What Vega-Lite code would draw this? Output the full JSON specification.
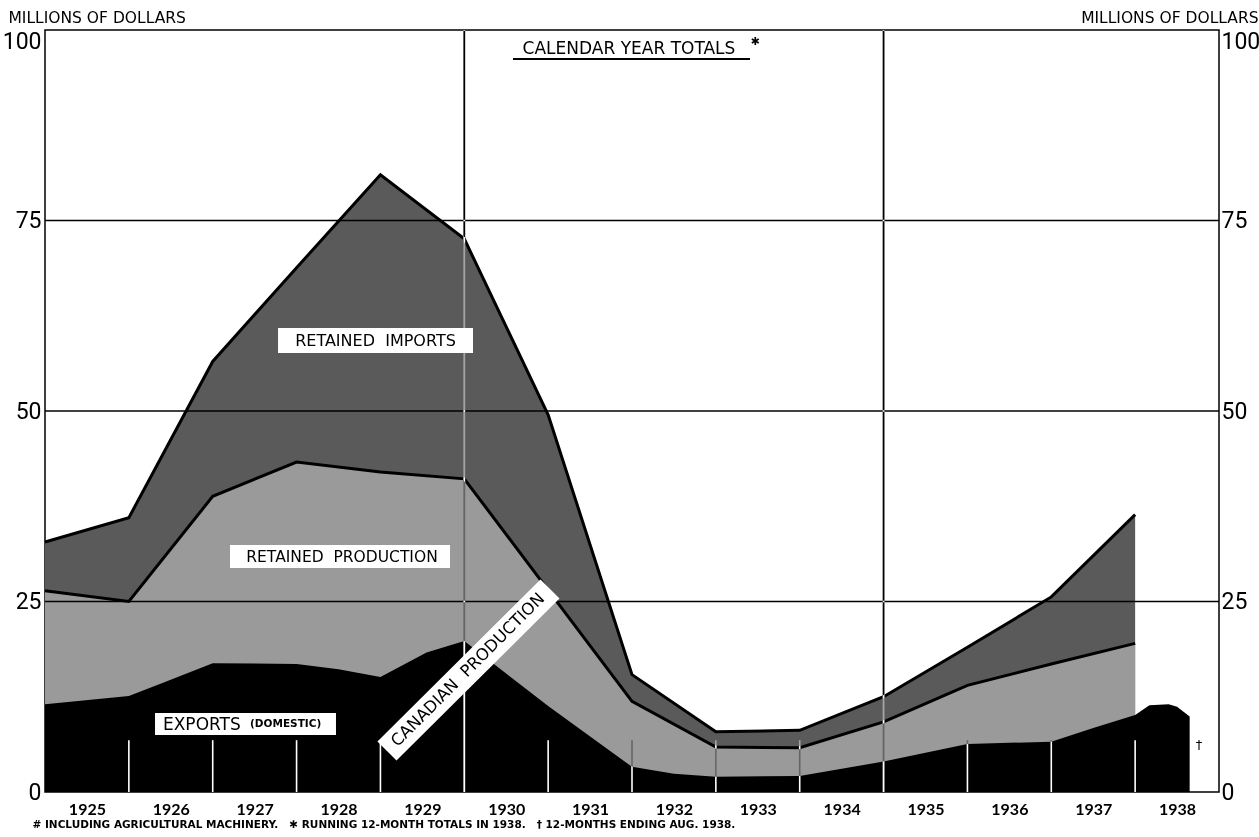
{
  "$schema": "https://vega.github.io/schema/vega-lite/v6.json",
  "width": 1174,
  "height": 762,
  "autosize": {"type": "none"},
  "padding": {"left": 45, "top": 30, "right": 40, "bottom": 45},
  "background": "white",
  "config": {
    "view": {"stroke": "black", "strokeWidth": 1.5},
    "font": "DejaVu Sans"
  },
  "datasets": {
    "bands": [
      {"year": 1925, "production": 26.4, "total": 32.8},
      {"year": 1926, "production": 25.0, "total": 36.0},
      {"year": 1927, "production": 38.8, "total": 56.5},
      {"year": 1928, "production": 43.3, "total": 68.8},
      {"year": 1929, "production": 42.0, "total": 81.0},
      {"year": 1930, "production": 41.1, "total": 72.6},
      {"year": 1931, "production": 26.5, "total": 49.5},
      {"year": 1932, "production": 11.9, "total": 15.4},
      {"year": 1933, "production": 5.9, "total": 7.9},
      {"year": 1934, "production": 5.8, "total": 8.1},
      {"year": 1935, "production": 9.2, "total": 12.5},
      {"year": 1936, "production": 14.0, "total": 19.0},
      {"year": 1937, "production": 16.8, "total": 25.6},
      {"year": 1938, "production": 19.5, "total": 36.4}
    ],
    "exports": [
      {"year": 1925, "exports": 11.5},
      {"year": 1926, "exports": 12.6},
      {"year": 1926.4, "exports": 14.3},
      {"year": 1927, "exports": 16.9},
      {"year": 1928, "exports": 16.8},
      {"year": 1928.5, "exports": 16.1},
      {"year": 1929, "exports": 15.1},
      {"year": 1929.55, "exports": 18.3},
      {"year": 1930, "exports": 19.8},
      {"year": 1931, "exports": 11.3},
      {"year": 1932, "exports": 3.3},
      {"year": 1932.5, "exports": 2.4},
      {"year": 1933, "exports": 2.0},
      {"year": 1934, "exports": 2.1},
      {"year": 1935, "exports": 4.0},
      {"year": 1936, "exports": 6.3},
      {"year": 1937, "exports": 6.6},
      {"year": 1937.5, "exports": 8.4},
      {"year": 1938, "exports": 10.1},
      {"year": 1938.17, "exports": 11.4},
      {"year": 1938.4, "exports": 11.5},
      {"year": 1938.5, "exports": 11.2},
      {"year": 1938.65, "exports": 9.9}
    ],
    "years": [
      {"year": 1926}, {"year": 1927}, {"year": 1928}, {"year": 1929},
      {"year": 1930}, {"year": 1931}, {"year": 1932}, {"year": 1933},
      {"year": 1934}, {"year": 1935}, {"year": 1936}, {"year": 1937},
      {"year": 1938}
    ],
    "levels": [{"level": 25}, {"level": 50}, {"level": 75}]
  },
  "resolve": {"axis": {"y": "independent"}},
  "layer": [
    {
      "data": {"name": "bands"},
      "mark": {"type": "area", "fill": "#5a5a5a"},
      "encoding": {
        "x": {
          "field": "year", "type": "quantitative",
          "scale": {"domain": [1925, 1939], "nice": false, "zero": false},
          "axis": {
            "values": [1925.5, 1926.5, 1927.5, 1928.5, 1929.5, 1930.5, 1931.5, 1932.5, 1933.5, 1934.5, 1935.5, 1936.5, 1937.5, 1938.5],
            "labelExpr": "floor(datum.value)",
            "ticks": false, "tickSize": 0, "domain": false, "grid": false,
            "labelFont": "Lato", "labelFontSize": 16, "labelFontWeight": "bold",
            "labelColor": "black", "labelPadding": 9, "labelFlush": false, "labelOverlap": false,
            "title": "#  INCLUDING AGRICULTURAL MACHINERY.   \u00a0 ✱ RUNNING 12-MONTH TOTALS IN 1938.   \u00a0 † 12-MONTHS ENDING AUG. 1938.",
            "titleFont": "DejaVu Sans", "titleFontSize": 10.5, "titleFontWeight": "bold", "titleColor": "black",
            "titleAnchor": "start", "titleAlign": "left", "titleBaseline": "middle",
            "titleX": -13, "titleY": 32
          }
        },
        "y": {
          "field": "total", "type": "quantitative",
          "scale": {"domain": [0, 100], "nice": false, "zero": true},
          "axis": {
            "orient": "left",
            "values": [0, 25, 50, 75, 100],
            "ticks": false, "domain": false, "grid": false,
            "labelFont": "Roboto",
            "labelFontSize": 23, "labelColor": "black", "labelPadding": 4,
            "labelBaseline": {"condition": {"test": "datum.value == 100", "value": "top"}, "value": "middle"},
            "labelFlush": false,
            "title": "MILLIONS  OF  DOLLARS",
            "titleFont": "DejaVu Sans", "titleFontSize": 15.5, "titleFontWeight": "normal", "titleColor": "black",
            "titleAngle": 0, "titleAlign": "left", "titleBaseline": "middle",
            "titleX": -37, "titleY": -13
          }
        }
      }
    },
    {
      "data": {"name": "bands"},
      "mark": {"type": "area", "fill": "#9a9a9a"},
      "encoding": {
        "x": {"field": "year", "type": "quantitative"},
        "y": {
          "field": "production", "type": "quantitative",
          "axis": {
            "orient": "right",
            "values": [0, 25, 50, 75, 100],
            "ticks": false, "domain": false, "grid": false,
            "labelFont": "Roboto",
            "labelFontSize": 23, "labelColor": "black", "labelPadding": 2,
            "labelBaseline": {"condition": {"test": "datum.value == 100", "value": "top"}, "value": "middle"},
            "labelFlush": false,
            "title": "MILLIONS  OF  DOLLARS",
            "titleFont": "DejaVu Sans", "titleFontSize": 15.5, "titleFontWeight": "normal", "titleColor": "black",
            "titleAngle": 0, "titleAlign": "right", "titleBaseline": "middle",
            "titleX": 39, "titleY": -13
          }
        }
      }
    },
    {
      "data": {"name": "exports"},
      "mark": {"type": "area", "fill": "black"},
      "encoding": {
        "x": {"field": "year", "type": "quantitative"},
        "y": {"field": "exports", "type": "quantitative", "axis": null}
      }
    },
    {
      "data": {"name": "bands"},
      "mark": {"type": "line", "stroke": "black", "strokeWidth": 3, "strokeJoin": "miter"},
      "encoding": {
        "x": {"field": "year", "type": "quantitative"},
        "y": {"field": "total", "type": "quantitative", "axis": null}
      }
    },
    {
      "data": {"name": "bands"},
      "mark": {"type": "line", "stroke": "black", "strokeWidth": 3, "strokeJoin": "miter"},
      "encoding": {
        "x": {"field": "year", "type": "quantitative"},
        "y": {"field": "production", "type": "quantitative", "axis": null}
      }
    },
    {
      "data": {"name": "levels"},
      "mark": {"type": "rule", "stroke": "black", "strokeWidth": 1.3},
      "encoding": {
        "y": {"field": "level", "type": "quantitative", "axis": null}
      }
    },
    {
      "data": {"name": "years"},
      "transform": [{"filter": "datum.year == 1930 || datum.year == 1935"}],
      "mark": {"type": "rule", "stroke": "white", "strokeWidth": 1.8, "blend": "difference"},
      "encoding": {
        "x": {"field": "year", "type": "quantitative"}
      }
    },
    {
      "data": {"name": "years"},
      "transform": [{"filter": "datum.year != 1930 && datum.year != 1935"}],
      "mark": {"type": "rule", "stroke": "white", "strokeWidth": 1.6, "blend": "difference"},
      "encoding": {
        "x": {"field": "year", "type": "quantitative"},
        "y": {"datum": 0, "type": "quantitative", "axis": null},
        "y2": {"datum": 6.8}
      }
    },
    {
      "data": {"values": [{}]},
      "mark": {"type": "rect", "fill": "white"},
      "encoding": {
        "x": {"datum": 1927.779, "type": "quantitative"},
        "x2": {"datum": 1930.104},
        "y": {"datum": 60.89, "type": "quantitative", "axis": null},
        "y2": {"datum": 57.61}
      }
    },
    {
      "data": {"values": [{}]},
      "mark": {"type": "rect", "fill": "white"},
      "encoding": {
        "x": {"datum": 1927.206, "type": "quantitative"},
        "x2": {"datum": 1929.83},
        "y": {"datum": 32.41, "type": "quantitative", "axis": null},
        "y2": {"datum": 29.4}
      }
    },
    {
      "data": {"values": [{}]},
      "mark": {"type": "rect", "fill": "white"},
      "encoding": {
        "x": {"datum": 1926.312, "type": "quantitative"},
        "x2": {"datum": 1928.47},
        "y": {"datum": 10.37, "type": "quantitative", "axis": null},
        "y2": {"datum": 7.48}
      }
    },
    {
      "data": {"values": [{}]},
      "mark": {"type": "rule", "stroke": "white", "strokeWidth": 27, "strokeCap": "butt"},
      "encoding": {
        "x": {"datum": 1929.078, "type": "quantitative"},
        "x2": {"datum": 1931.022},
        "y": {"datum": 5.38, "type": "quantitative", "axis": null},
        "y2": {"datum": 26.64}
      }
    },
    {
      "data": {"values": [{}]},
      "mark": {"type": "text", "text": "RETAINED \u00a0IMPORTS", "font": "DejaVu Sans", "fontSize": 16, "color": "black", "align": "center", "baseline": "middle"},
      "encoding": {
        "x": {"datum": 1928.941, "type": "quantitative"},
        "y": {"datum": 59.25, "type": "quantitative", "axis": null}
      }
    },
    {
      "data": {"values": [{}]},
      "mark": {"type": "text", "text": "RETAINED \u00a0PRODUCTION", "font": "DejaVu Sans", "fontSize": 15.5, "color": "black", "align": "center", "baseline": "middle"},
      "encoding": {
        "x": {"datum": 1928.542, "type": "quantitative"},
        "y": {"datum": 30.85, "type": "quantitative", "axis": null}
      }
    },
    {
      "data": {"values": [{}]},
      "mark": {"type": "text", "text": "EXPORTS", "font": "DejaVu Sans", "fontSize": 17, "color": "black", "align": "left", "baseline": "middle"},
      "encoding": {
        "x": {"datum": 1926.407, "type": "quantitative"},
        "y": {"datum": 8.75, "type": "quantitative", "axis": null}
      }
    },
    {
      "data": {"values": [{}]},
      "mark": {"type": "text", "text": "(DOMESTIC)", "font": "DejaVu Sans", "fontSize": 10.5, "fontWeight": "bold", "color": "black", "align": "left", "baseline": "middle"},
      "encoding": {
        "x": {"datum": 1927.445, "type": "quantitative"},
        "y": {"datum": 8.95, "type": "quantitative", "axis": null}
      }
    },
    {
      "data": {"values": [{}]},
      "mark": {"type": "text", "text": "CANADIAN \u00a0PRODUCTION", "font": "DejaVu Sans", "fontSize": 16.5, "color": "black", "align": "center", "baseline": "middle", "angle": -45},
      "encoding": {
        "x": {"datum": 1930.044, "type": "quantitative"},
        "y": {"datum": 16.01, "type": "quantitative", "axis": null}
      }
    },
    {
      "data": {"values": [{}]},
      "mark": {"type": "text", "text": "†", "font": "DejaVu Sans", "fontSize": 13, "color": "black", "align": "center", "baseline": "middle"},
      "encoding": {
        "x": {"datum": 1938.762, "type": "quantitative"},
        "y": {"datum": 6.2, "type": "quantitative", "axis": null}
      }
    },
    {
      "data": {"values": [{}]},
      "mark": {"type": "text", "text": "CALENDAR YEAR TOTALS", "font": "DejaVu Sans", "fontSize": 17, "color": "black", "align": "center", "baseline": "middle"},
      "encoding": {
        "x": {"datum": 1931.964, "type": "quantitative"},
        "y": {"datum": 97.5, "type": "quantitative", "axis": null}
      }
    },
    {
      "data": {"values": [{}]},
      "mark": {"type": "text", "text": "✱", "font": "DejaVu Sans", "fontSize": 11, "color": "black", "align": "center", "baseline": "middle"},
      "encoding": {
        "x": {"datum": 1933.467, "type": "quantitative"},
        "y": {"datum": 98.4, "type": "quantitative", "axis": null}
      }
    },
    {
      "data": {"values": [{}]},
      "mark": {"type": "rule", "stroke": "black", "strokeWidth": 2},
      "encoding": {
        "x": {"datum": 1930.581, "type": "quantitative"},
        "x2": {"datum": 1933.407},
        "y": {"datum": 96.19, "type": "quantitative", "axis": null}
      }
    }
  ]
}
